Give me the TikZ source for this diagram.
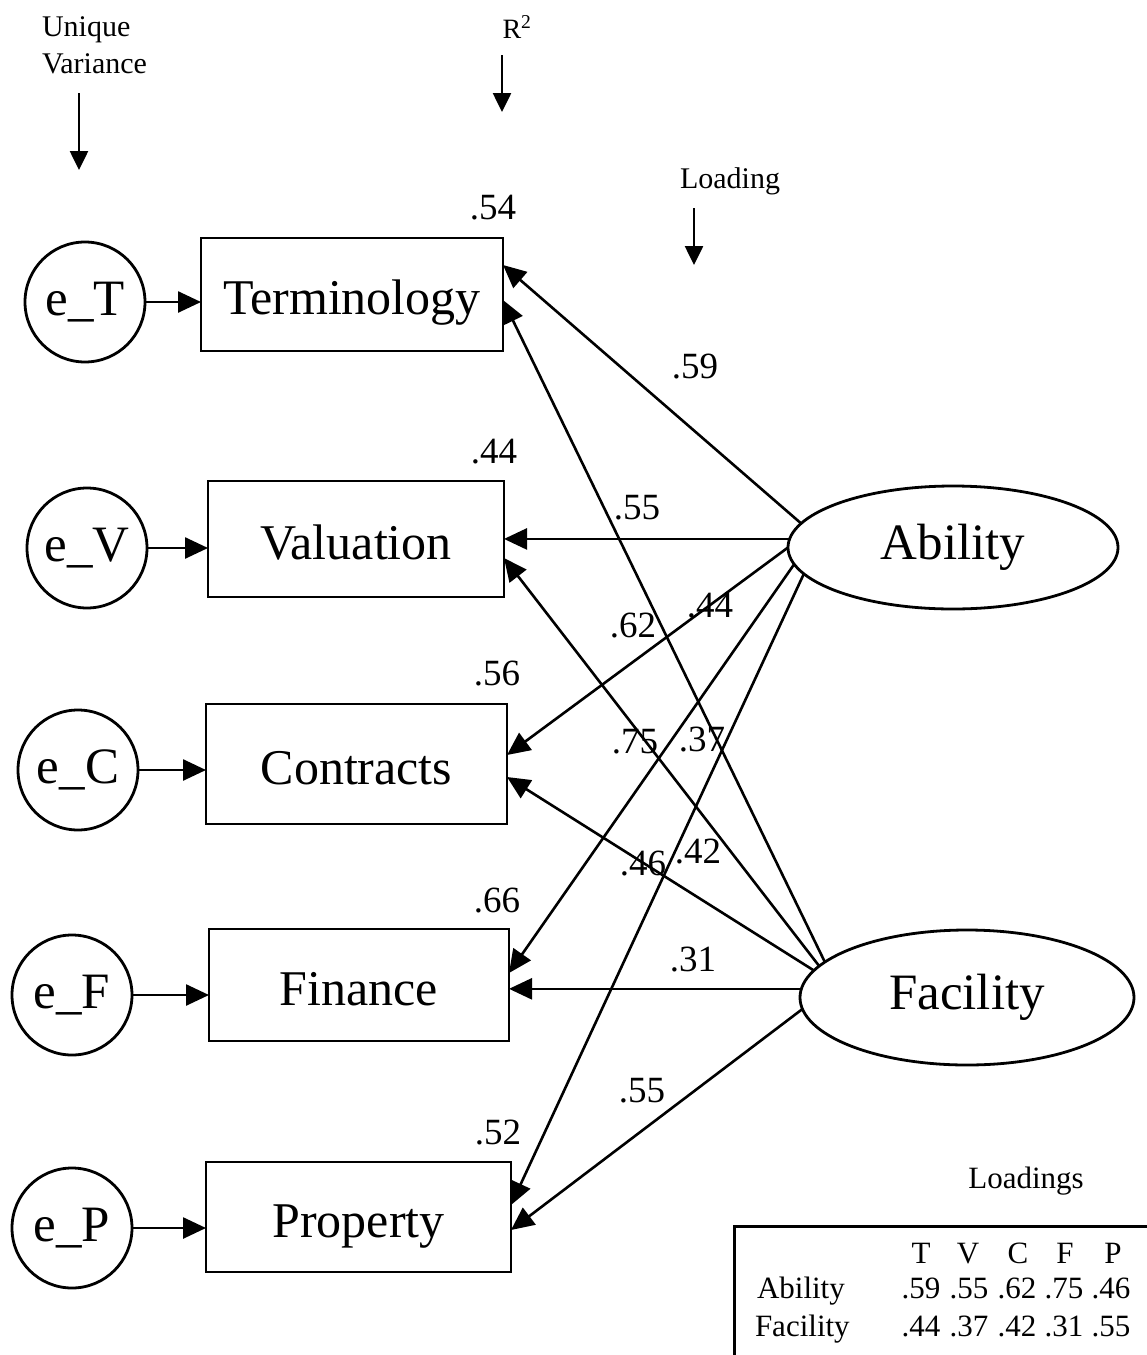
\documentclass[tikz,border=0pt]{standalone}
\usepackage{fontspec}
\setmainfont{Liberation Serif}
\usetikzlibrary{arrows.meta,shapes.geometric,calc}
\begin{document}
\begin{tikzpicture}[x=1pt,y=-1pt,
  every node/.style={inner sep=0pt, outer sep=0pt},
  obs/.style={draw, line width=2.8pt, rectangle, text height=40pt, text depth=0pt, font=\fontsize{50}{60}\selectfont},
  err/.style={draw, line width=2.8pt, circle, minimum size=120pt, font=\fontsize{51}{60}\selectfont},
  lat/.style={draw, line width=2.8pt, ellipse, font=\fontsize{51}{60}\selectfont},
  num/.style={font=\fontsize{37}{40}\selectfont},
  note/.style={font=\fontsize{30}{37}\selectfont},
  tab/.style={font=\fontsize{31}{37}\selectfont, anchor=base},
  arr/.style={line width=2.6pt, -{Triangle[length=23pt,width=21pt]}},
  arrs/.style={line width=2.6pt, -{Triangle[length=19pt,width=18pt]}},
]
\fill[white] (0,0) rectangle (1147,1355);
\useasboundingbox (0,0) rectangle (1147,1355);

% error terms
\node[err] (eT) at (85,302) {e\_T};
\node[err] (eV) at (87,548) {e\_V};
\node[err] (eC) at (78,770) {e\_C};
\node[err] (eF) at (72,995) {e\_F};
\node[err] (eP) at (72,1228) {e\_P};

% observed variables
\node[obs, minimum width=302pt, minimum height=113pt] (T) at (352,294.5) {Terminology};
\node[obs, minimum width=296pt, minimum height=116pt] (V) at (356,539) {Valuation};
\node[obs, minimum width=301pt, minimum height=120pt] (C) at (356.5,764) {Contracts};
\node[obs, minimum width=300pt, minimum height=112pt] (F) at (359,985) {Finance};
\node[obs, minimum width=305pt, minimum height=110pt] (P) at (358.5,1217) {Property};

% latent factors
\node[lat, minimum width=330pt, minimum height=123pt] (Ab) at (953,547.5) {Ability};
\node[lat, minimum width=334pt, minimum height=135pt] (Fa) at (967,997.5) {Facility};

% error arrows
\draw[arr] (eT.east) -- (eT.east -| T.west);
\draw[arr] (eV.east) -- (eV.east -| V.west);
\draw[arr] (eC.east) -- (eC.east -| C.west);
\draw[arr] (eF.east) -- (eF.east -| F.west);
\draw[arr] (eP.east) -- (eP.east -| P.west);

% Ability loadings
\draw[arr] (Ab.171) -- ($(T.east)+(0,-29.5)$);
\draw[arr] (Ab.177) -- (Ab.177 -| V.east);
\draw[arr] (Ab.180) -- ($(C.east)+(0,-9)$);
\draw[arr] (Ab.186) -- ($(F.east)+(0,-12)$);
\draw[arr] (Ab.190) -- ($(P.east)+(0,-12)$);

% Facility loadings
\draw[arr] (Fa.166) -- ($(T.east)+(0,5.5)$);
\draw[arr] (Fa.168) -- ($(V.east)+(0,19)$);
\draw[arr] (Fa.170) -- ($(C.east)+(0,13)$);
\draw[arr] (Fa.177) -- (Fa.177 -| F.east);
\draw[arr] (Fa.184) -- ($(P.east)+(0,13)$);

% loading labels
\node[num] (l1) at (695,367) {.59};
\node[num] (l2) at (637,508) {.55};
\node[num] (l3) at (633,626) {.62};
\node[num] (l4) at (710,606) {.44};
\node[num] (l5) at (635,742) {.75};
\node[num] (l6) at (702,740) {.37};
\node[num] (l7) at (643,864) {.46};
\node[num] (l8) at (698,852) {.42};
\node[num] (l9) at (693,960) {.31};
\node[num] (l10) at (642,1091) {.55};

% R2 labels
\node[num] (r1) at (493,208) {.54};
\node[num] (r2) at (494,452) {.44};
\node[num] (r3) at (497,674) {.56};
\node[num] (r4) at (497,901) {.66};
\node[num] (r5) at (498,1132) {.52};

% annotations
\node[note, align=left, anchor=north west] (uv) at (42,17) {Unique\\Variance};
\coordinate (uva) at (79,93);
\coordinate (uvb) at (79,170);
\draw[arrs] (uva) -- (uvb);

\node[font=\fontsize{28}{34}\selectfont] (rsq) at (517,27) {R\textsuperscript{2}};
\coordinate (rsa) at (502,55);
\coordinate (rsb) at (502,112);
\draw[arrs] (rsa) -- (rsb);

\node[note, anchor=base] (ld) at (730,188) {Loading};
\coordinate (lda) at (694,208);
\coordinate (ldb) at (694,265);
\draw[arrs] (lda) -- (ldb);

% table
\node[tab] (lds) at (1026,1188) {Loadings};
\draw[line width=3pt] (1147,1226) -- (734,1226) -- (734,1355);
\node[tab] (hT) at (921,1263) {T};
\node[tab] (hV) at (968,1263) {V};
\node[tab] (hC) at (1018,1263) {C};
\node[tab] (hF) at (1065,1263) {F};
\node[tab] (hP) at (1113,1263) {P};
\node[tab, anchor=base west] (rA) at (757,1298) {Ability};
\node[tab] (a1) at (921,1298) {.59};
\node[tab] (a2) at (969,1298) {.55};
\node[tab] (a3) at (1017,1298) {.62};
\node[tab] (a4) at (1064,1298) {.75};
\node[tab] (a5) at (1111,1298) {.46};
\node[tab, anchor=base west] (rF) at (755,1336) {Facility};
\node[tab] (f1) at (921,1336) {.44};
\node[tab] (f2) at (969,1336) {.37};
\node[tab] (f3) at (1017,1336) {.42};
\node[tab] (f4) at (1064,1336) {.31};
\node[tab] (f5) at (1111,1336) {.55};
\end{tikzpicture}
\end{document}
